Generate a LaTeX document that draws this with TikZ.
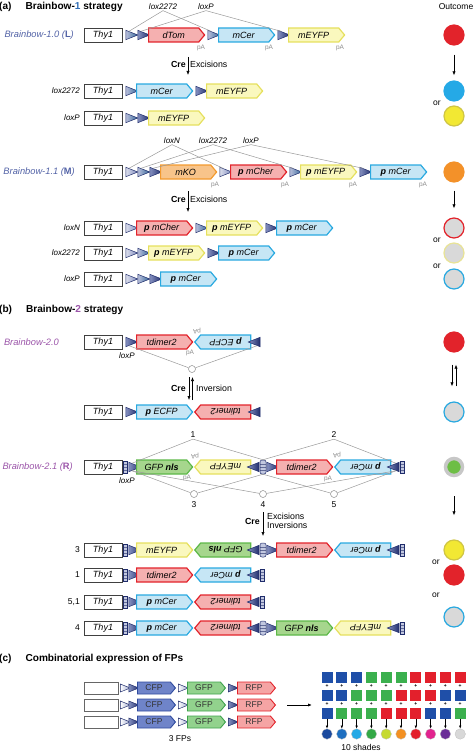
\documentclass[tikz,border=0pt]{standalone}
\usepackage{fontspec}
\setmainfont{Liberation Sans}
\usepackage{tikz}
\usetikzlibrary{shapes.geometric,shapes.symbols,arrows.meta,positioning}
\definecolor{bbred}{HTML}{E2232B}
\definecolor{bbredF}{HTML}{F5B0B0}
\definecolor{bbcyan}{HTML}{29A9E0}
\definecolor{bbcyanF}{HTML}{C6E6F5}
\definecolor{bbyel}{HTML}{E6E05E}
\definecolor{bbyelF}{HTML}{FAF8BE}
\definecolor{bbyelO}{HTML}{F2E833}
\definecolor{bbyelD}{HTML}{CFC545}
\definecolor{bbyelR}{HTML}{E8E396}
\definecolor{bborg}{HTML}{F39A2E}
\definecolor{bborgF}{HTML}{F8C48A}
\definecolor{bborgO}{HTML}{F39129}
\definecolor{bbgrn}{HTML}{5DB848}
\definecolor{bbgrnF}{HTML}{A6D68D}
\definecolor{bbgrnO}{HTML}{6DBE45}
\definecolor{bbnavy}{HTML}{1F2C6B}
\definecolor{bbmid}{HTML}{3C78B4}
\definecolor{bbslate}{HTML}{5262A6}
\definecolor{bbblue}{HTML}{2F6DB5}
\definecolor{bbpurple}{HTML}{9B55A9}
\definecolor{bbgray}{HTML}{D9D9D9}
\definecolor{cfpD}{HTML}{2F4B9E}
\definecolor{cfpF}{HTML}{6F84C9}
\definecolor{gfpD}{HTML}{3DA24C}
\definecolor{gfpF}{HTML}{92D28D}
\definecolor{rfpF}{HTML}{F5A4A4}
\definecolor{sqB}{HTML}{1F4FA8}
\definecolor{sqG}{HTML}{3BB04E}
\definecolor{sqR}{HTML}{E3202C}
\definecolor{shA}{HTML}{1B4A9E}
\definecolor{shB}{HTML}{1E6FC0}
\definecolor{shC}{HTML}{25A9E6}
\definecolor{shD}{HTML}{33A946}
\definecolor{shE}{HTML}{C6DA32}
\definecolor{shF}{HTML}{F39022}
\definecolor{shG}{HTML}{E3202C}
\definecolor{shH}{HTML}{E2238E}
\definecolor{shI}{HTML}{6A2D97}
\definecolor{shJ}{HTML}{D8D8D8}

\begin{document}
\begin{tikzpicture}[
  x=1pt, y=-1pt,
  font=\fontsize{8.5}{10}\selectfont,
  title/.style={anchor=west, inner sep=0pt, font=\bfseries\fontsize{10.1}{12}\selectfont},
  rowname/.style={anchor=east, inner sep=0pt, font=\itshape\fontsize{9.3}{11}\selectfont},
  rowtag/.style={anchor=east, inner sep=0pt, font=\itshape\fontsize{8}{9}\selectfont},
  numtag/.style={anchor=east, inner sep=0pt},
  toplab/.style={inner sep=0.5pt, font=\itshape\fontsize{8}{9}\selectfont},
  numlab/.style={inner sep=1pt},
  ortxt/.style={inner sep=0pt},
  polyA/.style={inner sep=0pt, text=black!45, font=\fontsize{6.5}{7}\selectfont},
  crelab/.style={anchor=east, inner sep=0pt, font=\bfseries\fontsize{8.8}{10}\selectfont},
  actlab/.style={anchor=west, inner sep=0pt, align=left, font=\fontsize{8.8}{9}\selectfont},
  promoter/.style={draw=black!75, fill=white, line width=0.7pt, minimum width=38pt,
                   minimum height=14pt, inner sep=0pt, font=\itshape\fontsize{9}{10}\selectfont},
  gene/.style={signal, signal to=east, signal pointer angle=100, anchor=west,
               line width=1.2pt, minimum width=56pt, minimum height=14pt, inner sep=0pt,
               font=\itshape\fontsize{9}{10}\selectfont},
  redg/.style={gene, draw=bbred, fill=bbredF},
  cyang/.style={gene, draw=bbcyan, fill=bbcyanF},
  yelg/.style={gene, draw=bbyel, fill=bbyelF},
  orgg/.style={gene, draw=bborg, fill=bborgF},
  grng/.style={gene, draw=bbgrn, fill=bbgrnF},
  rev/.style={rotate=180, anchor=east},
  lox/.style={isosceles triangle, isosceles triangle stretches, minimum width=9.5pt,
              minimum height=12pt, inner sep=0pt, draw=bbnavy, line width=0.5pt},
  loxN/.style={lox, left color=bbslate!20, right color=bbslate!75},
  loxM/.style={lox, left color=bbslate!40, right color=bbmid!85!black},
  loxP/.style={lox, left color=bbslate!70, right color=bbnavy},
  flip/.style={rotate=180},
  stripe/.style={rectangle, draw=bbnavy, fill=bbslate!35, minimum width=4pt,
                 minimum height=12pt, inner sep=0pt, line width=0.5pt,
                 path picture={\foreach \k in {-3,0,3}
                   \draw[bbnavy!70, line width=0.4pt] ([yshift=\k pt]path picture bounding box.west)
                     -- ([yshift=\k pt]path picture bounding box.east);}},
  hub/.style={minimum width=6pt, minimum height=14pt, rounded corners=2pt},
  lxline/.style={draw=black!40, line width=0.5pt},
  jct/.style={circle, draw=black!45, fill=white, minimum size=7pt, inner sep=0pt, line width=0.5pt},
  arr/.style={-{Latex[length=4pt,width=3.2pt]}, line width=0.6pt},
  outc/.style={circle, minimum size=20pt, inner sep=0pt, line width=1.2pt},
  ring/.style={circle, minimum size=17pt, inner sep=0pt, fill=bbgrnO, draw=black!22, line width=3.5pt},
  fpbox/.style={draw=black!60, fill=white, line width=0.6pt, minimum width=34pt, minimum height=12pt, inner sep=0pt},
  fpg/.style={gene, minimum width=38pt, minimum height=12pt, line width=0.9pt, text=black!80,
              font=\fontsize{8.5}{10}\selectfont},
  cfpg/.style={fpg, draw=cfpD, fill=cfpF},
  gfpg/.style={fpg, draw=gfpD, fill=gfpF},
  rfpg/.style={fpg, draw=bbred, fill=rfpF},
  slox/.style={lox, minimum width=8pt, minimum height=10pt},
  sloxM/.style={slox, left color=white, right color=bbslate!55},
  sloxP/.style={slox, left color=bbslate!70, right color=bbnavy},
  sq/.style={rectangle, minimum size=11pt, inner sep=0pt},
  plus/.style={inner sep=0pt, font=\bfseries\fontsize{5}{5}\selectfont},
  shade/.style={circle, minimum size=10.5pt, inner sep=0pt, draw=black!25, line width=0.3pt},
  tinyarr/.style={-{Latex[length=3pt,width=2.6pt]}, line width=0.6pt}
]
\useasboundingbox (0,0) rectangle (474,752);

% (a) Brainbow-1
\node[title] (ttlA) at (-1,7) {(a)\hspace{14pt}Brainbow-{\color{bbblue}1} strategy};
\node[inner sep=0pt] (outcm) at (456,7) {Outcome};

\node[toplab] (t10x) at (163,7) {lox2272};
\node[toplab] (t10p) at (206,7) {loxP};
\node[rowname, text=bbslate] (nm10) at (74,35) {Brainbow-1.0 ({\bfseries\upshape L})};
\node[promoter] (th10) at (103,35) {Thy1};
\node[loxM] (x10a) at (129,35) {};
\node[loxP] (x10b) at (141,35) {};
\node[redg] (g10a) at (148,35) {dTom};
\node[loxM] (x10c) at (211,35) {};
\node[cyang] (g10b) at (218,35) {mCer};
\node[loxP] (x10d) at (281,35) {};
\node[yelg] (g10c) at (288,35) {mEYFP};
\node[polyA] (pa10a) at (201,48) {pA};
\node[polyA] (pa10b) at (269,48) {pA};
\node[polyA] (pa10c) at (340,48) {pA};
\draw[lxline] (x10a.north) -- (t10x.south) -- (x10c.north);
\draw[lxline] (x10b.north) -- (t10p.south) -- (x10d.north);

\coordinate (cre1s) at (188,57);
\coordinate (cre1e) at (188,75);
\draw[arr] (cre1s) -- (cre1e);
\node[crelab] (cre1) at (186,64) {Cre};
\node[actlab] (act1) at (190,64) {Excisions};

\node[rowtag] (tg10b) at (80,91) {lox2272};
\node[promoter] (th10b) at (103,91) {Thy1};
\node[loxM] (x10e) at (129,91) {};
\node[cyang] (g10d) at (136,91) {mCer};
\node[loxP] (x10f) at (199,91) {};
\node[yelg] (g10e) at (206,91) {mEYFP};

\node[rowtag] (tg10c) at (80,118) {loxP};
\node[promoter] (th10c) at (103,118) {Thy1};
\node[loxM] (x10g) at (129,118) {};
\node[loxP] (x10h) at (141,118) {};
\node[yelg] (g10f) at (148,118) {mEYFP};

\node[outc, fill=bbred, draw=bbred] (oa1) at (454,35) {};
\node[outc, fill=shC, draw=shC] (oa2) at (454,91) {};
\node[outc, fill=bbyelO, draw=bbyelD] (oa3) at (454,116) {};
\node[ortxt] (or1) at (437,103) {or};
\draw[arr, shorten <=9pt, shorten >=5pt] (oa1) -- (oa2);

% Brainbow-1.1
\node[toplab] (t11n) at (172,141) {loxN};
\node[toplab] (t11x) at (213,141) {lox2272};
\node[toplab] (t11p) at (251,141) {loxP};
\node[rowname, text=bbslate] (nm11) at (75,172) {Brainbow-1.1 ({\bfseries\upshape M})};
\node[promoter] (th11) at (103,172) {Thy1};
\node[loxN] (x11a) at (129,172) {};
\node[loxM] (x11b) at (141,172) {};
\node[loxP] (x11c) at (153,172) {};
\node[orgg] (g11a) at (160,172) {mKO};
\node[loxN] (x11d) at (223,172) {};
\node[redg] (g11b) at (230,172) {{\bfseries p} mCher};
\node[loxM] (x11e) at (293,172) {};
\node[yelg] (g11c) at (300,172) {{\bfseries p} mEYFP};
\node[loxP] (x11f) at (363,172) {};
\node[cyang] (g11d) at (370,172) {{\bfseries p} mCer};
\node[polyA] (pa11a) at (215,185) {pA};
\node[polyA] (pa11b) at (285,185) {pA};
\node[polyA] (pa11c) at (353,185) {pA};
\node[polyA] (pa11d) at (423,185) {pA};
\draw[lxline] (x11a.north) -- (t11n.south) -- (x11d.north);
\draw[lxline] (x11b.north) -- (t11x.south) -- (x11e.north);
\draw[lxline] (x11c.north) -- (t11p.south) -- (x11f.north);

\coordinate (cre2s) at (188,191);
\coordinate (cre2e) at (188,212);
\draw[arr] (cre2s) -- (cre2e);
\node[crelab] (cre2) at (186,199) {Cre};
\node[actlab] (act2) at (190,199) {Excisions};

\node[rowtag] (tg11a) at (80,228) {loxN};
\node[promoter] (th11a) at (103,228) {Thy1};
\node[loxN] (x11g) at (129,228) {};
\node[redg] (g11e) at (136,228) {{\bfseries p} mCher};
\node[loxM] (x11h) at (199,228) {};
\node[yelg] (g11f) at (206,228) {{\bfseries p} mEYFP};
\node[loxP] (x11i) at (269,228) {};
\node[cyang] (g11g) at (276,228) {{\bfseries p} mCer};

\node[rowtag] (tg11b) at (80,253) {lox2272};
\node[promoter] (th11b) at (103,253) {Thy1};
\node[loxN] (x11j) at (129,253) {};
\node[loxM] (x11k) at (141,253) {};
\node[yelg] (g11h) at (148,253) {{\bfseries p} mEYFP};
\node[loxP] (x11l) at (211,253) {};
\node[cyang] (g11i) at (218,253) {{\bfseries p} mCer};

\node[rowtag] (tg11c) at (80,279) {loxP};
\node[promoter] (th11c) at (103,279) {Thy1};
\node[loxN] (x11m) at (129,279) {};
\node[loxM] (x11n) at (141,279) {};
\node[loxP] (x11o) at (153,279) {};
\node[cyang] (g11j) at (160,279) {{\bfseries p} mCer};

\node[outc, fill=bborgO, draw=bborgO] (ob1) at (454,172) {};
\node[outc, fill=bbgray, draw=bbred] (ob2) at (454,228) {};
\node[outc, fill=bbgray, draw=bbyelR] (ob3) at (454,253) {};
\node[outc, fill=bbgray, draw=bbcyan] (ob4) at (454,279) {};
\node[ortxt] (or2) at (437,240) {or};
\node[ortxt] (or3) at (437,266) {or};
\draw[arr, shorten <=8pt, shorten >=9pt] (ob1) -- (ob2);

% (b) Brainbow-2
\node[title] (ttlB) at (-1,310) {(b)\hspace{14pt}Brainbow-{\color{bbpurple}2} strategy};
\node[rowname, text=bbpurple] (nm20) at (59,342) {Brainbow-2.0};
\node[promoter] (th20) at (103,342) {Thy1};
\node[loxP] (x20a) at (129,342) {};
\node[redg] (g20a) at (136,342) {tdimer2};
\node[cyang, rev] (g20b) at (194,342) {{\bfseries p} ECFP};
\node[loxP, flip] (x20b) at (257,342) {};
\node[toplab] (t20p) at (127,356) {loxP};
\node[polyA] (pa20a) at (190,353) {pA};
\node[polyA, flip] (pa20b) at (197,331) {pA};
\node[jct] (j20) at (192,369) {};
\draw[lxline] (x20a.south) -- (j20) -- (x20b.north);

\coordinate (cre3a) at (189,377);
\coordinate (cre3b) at (189,400);
\draw[arr] (cre3a) -- (cre3b);
\coordinate (cre3c) at (192.5,400);
\coordinate (cre3d) at (192.5,377);
\draw[arr] (cre3c) -- (cre3d);
\node[crelab] (cre3) at (186,388) {Cre};
\node[actlab] (act3) at (196,388) {Inversion};

\node[promoter] (th20b) at (103,412) {Thy1};
\node[loxP] (x20c) at (129,412) {};
\node[cyang] (g20c) at (136,412) {{\bfseries p} ECFP};
\node[redg, rev] (g20d) at (194,412) {tdimer2};
\node[loxP, flip] (x20d) at (257,412) {};

\node[outc, fill=bbred, draw=bbred] (oc1) at (454,342) {};
\node[outc, fill=bbgray, draw=bbcyan] (oc2) at (454,412) {};
\draw[arr, shorten <=12pt, shorten >=15pt] ([xshift=-2pt]oc1.south) -- ([xshift=-2pt]oc2.north);
\draw[arr, shorten <=15pt, shorten >=12pt] ([xshift=2pt]oc2.north) -- ([xshift=2pt]oc1.south);

% Brainbow-2.1
\node[rowname, text=bbpurple] (nm21) at (73,467) {Brainbow-2.1 ({\bfseries\upshape R})};
\node[promoter] (th21) at (103,467) {Thy1};
\node[stripe] (s21a) at (125.5,467) {};
\node[loxP] (x21a) at (132,467) {};
\node[grng] (g21a) at (136,467) {GFP {\bfseries nls}};
\node[yelg, rev] (g21b) at (194,467) {mEYFP};
\node[loxP, flip] (x21b) at (256,467) {};
\node[stripe, hub] (s21b) at (263,467) {};
\node[loxP] (x21c) at (270,467) {};
\node[redg] (g21c) at (276,467) {tdimer2};
\node[cyang, rev] (g21d) at (334,467) {{\bfseries p} mCer};
\node[loxP, flip] (x21d) at (396,467) {};
\node[stripe] (s21c) at (402.5,467) {};
\node[toplab] (t21p) at (127,481) {loxP};
\node[polyA] (pa21a) at (187,478) {pA};
\node[polyA, flip] (pa21b) at (195,456) {pA};
\node[polyA] (pa21c) at (328,479) {pA};
\node[polyA, flip] (pa21d) at (337,455) {pA};

\node[numlab] (k1) at (193,435) {1};
\node[numlab] (k2) at (334,435) {2};
\node[jct] (j3) at (194,494) {};
\node[jct] (j4) at (263,494) {};
\node[jct] (j5) at (334,494) {};
\node[numlab] (k3) at (194,505) {3};
\node[numlab] (k4) at (263,505) {4};
\node[numlab] (k5) at (334,505) {5};
\draw[lxline] (x21a.north) -- (k1.south) -- (s21b.north);
\draw[lxline] (s21b.north) -- (k2.south) -- (x21d.south);
\draw[lxline] (x21a.south) -- (j3) -- (s21b.south);
\draw[lxline] (x21a.south) -- (j4) -- (x21d.north);
\draw[lxline] (s21b.south) -- (j5) -- (x21d.north);

\coordinate (cre4s) at (263,512);
\coordinate (cre4e) at (263,536);
\draw[arr] (cre4s) -- (cre4e);
\node[crelab] (cre4) at (260,521) {Cre};
\node[actlab] (act4) at (267,521) {Excisions\\Inversions};

\node[numtag] (tg21a) at (80,550) {3};
\node[promoter] (th21a) at (103,550) {Thy1};
\node[stripe] (s21d) at (125.5,550) {};
\node[loxP] (x21e) at (132,550) {};
\node[yelg] (g21e) at (136,550) {mEYFP};
\node[grng, rev] (g21f) at (194,550) {GFP {\bfseries nls}};
\node[loxP, flip] (x21f) at (256,550) {};
\node[stripe, hub] (s21e) at (263,550) {};
\node[loxP] (x21g) at (270,550) {};
\node[redg] (g21g) at (276,550) {tdimer2};
\node[cyang, rev] (g21h) at (334,550) {{\bfseries p} mCer};
\node[loxP, flip] (x21h) at (396,550) {};
\node[stripe] (s21f) at (402.5,550) {};

\node[numtag] (tg21b) at (80,575) {1};
\node[promoter] (th21b) at (103,575) {Thy1};
\node[stripe] (s21g) at (125.5,575) {};
\node[loxP] (x21i) at (132,575) {};
\node[redg] (g21i) at (136,575) {tdimer2};
\node[cyang, rev] (g21j) at (194,575) {{\bfseries p} mCer};
\node[loxP, flip] (x21j) at (256,575) {};
\node[stripe] (s21h) at (262.5,575) {};

\node[numtag] (tg21c) at (80,602) {5,1};
\node[promoter] (th21c) at (103,602) {Thy1};
\node[stripe] (s21i) at (125.5,602) {};
\node[loxP] (x21k) at (132,602) {};
\node[cyang] (g21k) at (136,602) {{\bfseries p} mCer};
\node[redg, rev] (g21l) at (194,602) {tdimer2};
\node[loxP, flip] (x21l) at (256,602) {};
\node[stripe] (s21j) at (262.5,602) {};

\node[numtag] (tg21d) at (80,628) {4};
\node[promoter] (th21d) at (103,628) {Thy1};
\node[stripe] (s21k) at (125.5,628) {};
\node[loxP] (x21m) at (132,628) {};
\node[cyang] (g21m) at (136,628) {{\bfseries p} mCer};
\node[redg, rev] (g21n) at (194,628) {tdimer2};
\node[loxP, flip] (x21n) at (256,628) {};
\node[stripe, hub] (s21l) at (263,628) {};
\node[loxP] (x21o) at (270,628) {};
\node[grng] (g21o) at (276,628) {GFP {\bfseries nls}};
\node[yelg, rev] (g21p) at (334,628) {mEYFP};
\node[loxP, flip] (x21p) at (396,628) {};
\node[stripe] (s21m) at (402.5,628) {};

\node[ring] (od1) at (454,467) {};
\node[outc, fill=bbyelO, draw=bbyelD] (od2) at (454,550) {};
\node[outc, fill=bbred, draw=bbred] (od3) at (454,575) {};
\node[outc, fill=bbgray, draw=bbcyan] (od4) at (454,617) {};
\node[ortxt] (or4) at (436,562) {or};
\node[ortxt] (or5) at (436,595) {or};
\draw[arr, shorten <=19pt, shorten >=24pt] (od1) -- (od2);

% (c) combinatorial expression
\node[title] (ttlC) at (-1,659) {(c)\hspace{14pt}Combinatorial expression of FPs};
\foreach \y [count=\i] in {688,705,722} {
  \node[fpbox] (e\i) at (101,\y) {};
  \node[sloxM] (u\i) at (123,\y) {};
  \node[sloxP] (v\i) at (131.5,\y) {};
  \node[cfpg] (cf\i) at (137,\y) {CFP};
  \node[sloxM] (w\i) at (181,\y) {};
  \node[gfpg] (gf\i) at (187,\y) {GFP};
  \node[sloxP] (z\i) at (231,\y) {};
  \node[rfpg] (rf\i) at (237,\y) {RFP};
}
\node[inner sep=0pt] (fps) at (180,739) {3 FPs};
\coordinate (gridin) at (312,705);
\draw[arr, line width=0.9pt, shorten <=11pt] (rf2.east) -- (gridin);

\foreach \ca/\cb/\cc/\sh [count=\i] in {sqB/sqB/sqB/shA, sqB/sqB/sqG/shB, sqB/sqG/sqG/shC,
    sqG/sqG/sqG/shD, sqG/sqG/sqR/shE, sqG/sqR/sqR/shF, sqR/sqR/sqR/shG,
    sqR/sqR/sqB/shH, sqR/sqB/sqB/shI, sqR/sqB/sqG/shJ} {
  \pgfmathsetmacro\xx{327+14.8*(\i-1)}
  \node[sq, fill=\ca] (qa\i) at (\xx,677) {};
  \node[sq, fill=\cb] (qb\i) at (\xx,695) {};
  \node[sq, fill=\cc] (qc\i) at (\xx,713) {};
  \node[plus] (pl\i) at (\xx,686) {+};
  \node[plus] (pm\i) at (\xx,704) {+};
  \node[shade, fill=\sh] (sh\i) at (\xx,734) {};
  \draw[tinyarr] (qc\i) -- (sh\i);
}
\node[inner sep=0pt] (shd) at (361,747) {10 shades};

\end{tikzpicture}
\end{document}
